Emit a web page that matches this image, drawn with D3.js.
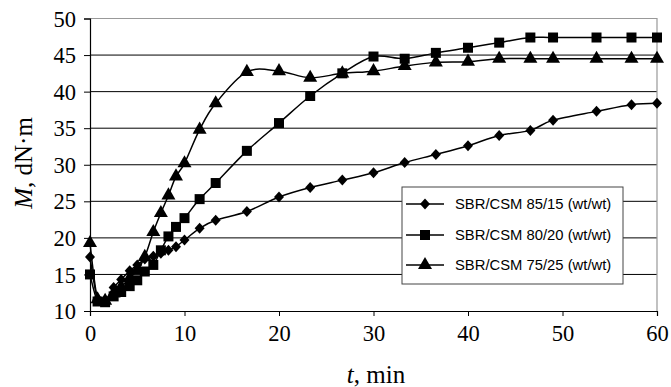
<!DOCTYPE html>
<html><head><meta charset="utf-8">
<script src="https://cdn.jsdelivr.net/npm/d3@7"></script>
<style>body{margin:0;background:#fff}</style>
</head><body><svg id="c" width="671" height="387"></svg>
<script>
const times = [0,0.8,1.6,2.5,3.3,4.2,5.0,5.8,6.7,7.5,8.3,9.1,10,11.6,13.3,16.6,20,23.3,26.7,30,33.3,36.6,40,43.3,46.6,49,53.6,57.3,60];
const s8515 = [17.4,11.6,11.4,13.2,14.3,15.5,16.3,17.1,17.5,17.9,18.3,18.8,19.7,21.3,22.4,23.6,25.6,26.9,27.9,28.9,30.3,31.4,32.6,34.0,34.7,36.1,37.3,38.2,38.4];
const s8020 = [15.0,11.3,11.2,12.0,12.6,13.4,14.2,15.4,16.3,18.3,20.2,21.5,22.7,25.3,27.5,31.9,35.7,39.4,42.5,44.8,44.5,45.3,46.0,46.7,47.4,47.4,47.4,47.4,47.4];
const s7525 = [19.3,11.6,11.4,12.4,13.3,14.5,15.6,17.4,20.8,23.4,25.8,28.4,30.2,34.8,38.4,42.7,42.8,41.9,42.5,42.8,43.5,44.0,44.1,44.5,44.5,44.5,44.5,44.5,44.5];
const seriesNames = ["SBR/CSM 85/15 (wt/wt)","SBR/CSM 80/20 (wt/wt)","SBR/CSM 75/25 (wt/wt)"];
const xTicks = [0,10,20,30,40,50,60];
const yTicks = [10,15,20,25,30,35,40,45,50];

const SERIF = '"Liberation Serif","Times New Roman",serif';
const svg = d3.select("#c");
const L=90, R=657, T=18.5, B=311;
const x = d3.scaleLinear().domain([0,60]).range([L,R]);
const y = d3.scaleLinear().domain([10,50]).range([B,T]);

svg.append("g").selectAll("line").data(yTicks.filter(v=>v>10&&v<50)).join("line")
  .attr("x1",L).attr("x2",R).attr("y1",d=>y(d)).attr("y2",d=>y(d))
  .attr("stroke","#000").attr("stroke-width",1);
svg.append("path").attr("d",`M${L},${T}H${R}V${B}`).attr("fill","none").attr("stroke","#999").attr("stroke-width",1.2);

const xa = svg.append("g").attr("transform",`translate(0,${B})`)
  .call(d3.axisBottom(x).tickValues(xTicks).tickSize(5).tickPadding(9));
const ya = svg.append("g").attr("transform",`translate(${L},0)`)
  .call(d3.axisLeft(y).tickValues(yTicks).tickSize(6).tickPadding(8));
[xa,ya].forEach(a=>{
  a.attr("font-family",null).attr("font-size",null);
  a.select(".domain").attr("stroke","#000").attr("stroke-width",1.2);
  a.selectAll(".tick line").attr("stroke","#000");
  a.selectAll("text").style("font-family",SERIF).style("font-size","22.5px").attr("fill","#000");
});
ya.selectAll("text").attr("dy","0.34em");

svg.append("text").attr("x",376).attr("y",383).attr("text-anchor","middle")
  .style("font-family",SERIF).style("font-size","25px")
  .html('<tspan font-style="italic">t</tspan>, min');
svg.append("text").attr("transform","translate(32,163) rotate(-90)").attr("text-anchor","middle")
  .style("font-family",SERIF).style("font-size","25px")
  .html('<tspan font-style="italic">M</tspan>, dN·m');

const rhombus = {draw(ctx,size){const w=Math.sqrt(size)/2, h=w*1.1; ctx.moveTo(0,-h);ctx.lineTo(w,0);ctx.lineTo(0,h);ctx.lineTo(-w,0);ctx.closePath();}};
const data = [s8515,s8020,s7525];
const symbols = [rhombus, d3.symbolSquare, d3.symbolTriangle];
const sizes = [100, 100, 85];
const line = d3.line().x(d=>x(d[0])).y(d=>y(d[1])).curve(d3.curveCardinal.tension(0));
data.forEach((s,i)=>{
  const pts = times.map((t,j)=>[t,s[j]]);
  const g = svg.append("g");
  g.append("path").attr("d",line(pts)).attr("fill","none").attr("stroke","#000").attr("stroke-width",1.5);
  g.selectAll("path.m").data(pts).join("path").attr("class","m")
    .attr("transform",d=>`translate(${x(d[0])},${y(d[1])})`)
    .attr("d",d3.symbol().type(symbols[i]).size(sizes[i])).attr("fill","#000");
});

const lg = svg.append("g");
lg.append("rect").attr("x",402).attr("y",187).attr("width",221).attr("height",97)
  .attr("fill","#fff").attr("stroke","#444").attr("stroke-width",1);
const ly = [204,235,265];
seriesNames.forEach((n,i)=>{
  lg.append("line").attr("x1",406).attr("x2",444).attr("y1",ly[i]).attr("y2",ly[i]).attr("stroke","#000").attr("stroke-width",1.5);
  lg.append("path").attr("transform",`translate(425,${ly[i]})`).attr("d",d3.symbol().type(symbols[i]).size(sizes[i])).attr("fill","#000");
  lg.append("text").attr("x",455).attr("y",ly[i]).attr("dy","0.35em")
    .style("font-family","'Liberation Sans',Arial,sans-serif").style("font-size","14.8px").text(n);
});
</script></body></html>
